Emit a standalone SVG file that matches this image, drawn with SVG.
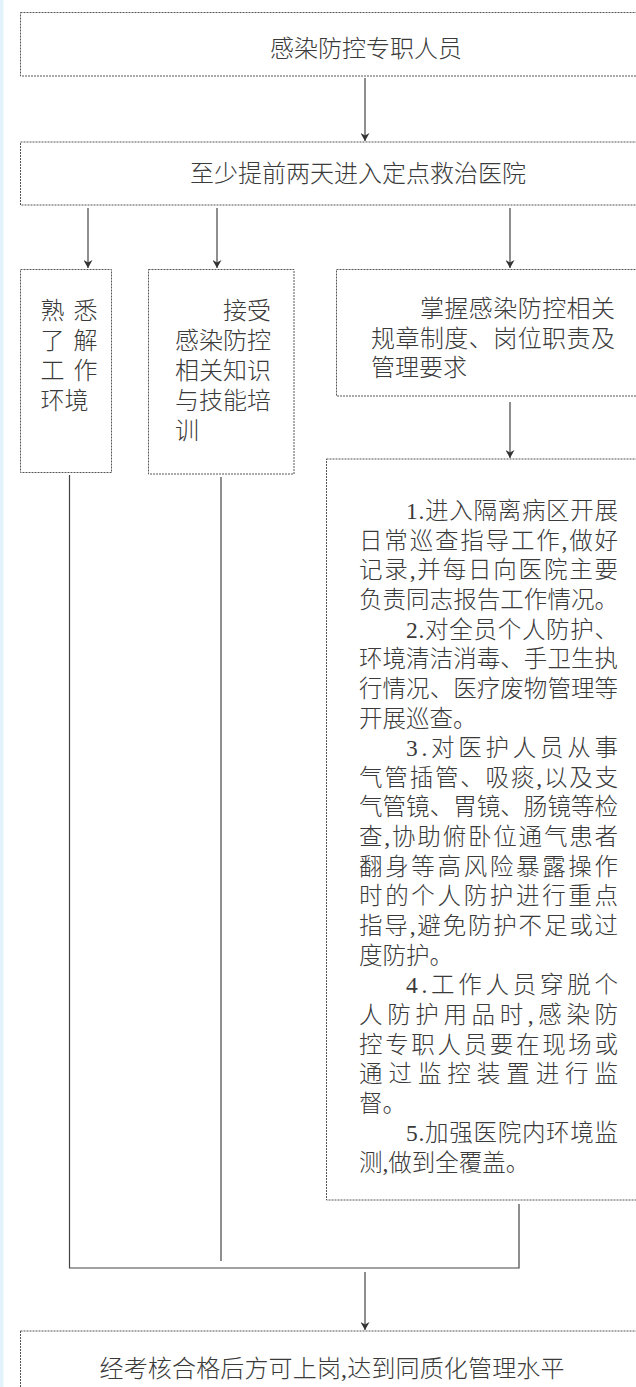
<svg xmlns="http://www.w3.org/2000/svg" width="636" height="1387" viewBox="0 0 636 1387">
<defs>
<style>
.box{fill:#fff;stroke:#555;stroke-width:1;stroke-dasharray:2 1}
.t{font-family:'Liberation Serif','Noto Sans CJK SC',serif;font-size:24px;fill:#3a3a3a;font-weight:300}
.td{font-family:'Liberation Serif','Noto Sans CJK SC',serif;font-size:23.5px;fill:#3a3a3a;font-weight:300}
.c{fill:none;stroke:#444;stroke-width:1.2}
</style>
<marker id="ah" markerWidth="8" markerHeight="9" refX="8" refY="4.5" orient="auto" markerUnits="userSpaceOnUse">
<path d="M0,0 L8,4.5 L0,9 L2.5,4.5 z" fill="#333"/>
</marker>
</defs>
<rect x="0" y="0" width="636" height="1387" fill="#fff"/>
<rect x="0" y="0" width="3.5" height="1387" fill="#e3f3fb"/>

<g id="connectors">
<line class="c" x1="365" y1="78" x2="365" y2="141" marker-end="url(#ah)"/>
<line class="c" x1="88" y1="208" x2="88" y2="268" marker-end="url(#ah)"/>
<line class="c" x1="217" y1="208" x2="217" y2="268" marker-end="url(#ah)"/>
<line class="c" x1="510" y1="208" x2="510" y2="268" marker-end="url(#ah)"/>
<line class="c" x1="510" y1="402" x2="510" y2="458" marker-end="url(#ah)"/>
<polyline class="c" points="69.5,475 69.5,1268 519,1268 519,1204"/>
<line class="c" x1="221" y1="477" x2="221" y2="1261"/>
<line class="c" x1="365" y1="1272" x2="365" y2="1330" marker-end="url(#ah)"/>
</g>

<g id="node-top">
<rect class="box" x="20.5" y="12.5" width="630" height="63.5"/>
<text class="t" x="270" y="57">感染防控专职人员</text>
</g>

<g id="node-hospital">
<rect class="box" x="20.5" y="142" width="630" height="63"/>
<text class="t" x="190" y="181.5">至少提前两天进入定点救治医院</text>
</g>

<g id="node-env">
<rect class="box" x="20.5" y="269.5" width="91" height="203"/>
<text class="t" x="40.5" y="319" textLength="57" lengthAdjust="spacing">熟悉</text>
<text class="t" x="40.5" y="349" textLength="57" lengthAdjust="spacing">了解</text>
<text class="t" x="40.5" y="379" textLength="57" lengthAdjust="spacing">工作</text>
<text class="t" x="40.5" y="409">环境</text>
</g>

<g id="node-training">
<rect class="box" x="148.5" y="269.5" width="145.5" height="204.5"/>
<text class="t" x="223" y="319">接受</text>
<text class="t" x="175" y="349">感染防控</text>
<text class="t" x="175" y="379">相关知识</text>
<text class="t" x="175" y="409">与技能培</text>
<text class="t" x="175" y="439">训</text>
</g>

<g id="node-rules">
<rect class="box" x="336.5" y="269.5" width="310" height="126.5"/>
<text class="t" x="420" y="317" textLength="195" lengthAdjust="spacing">掌握感染防控相关</text>
<text class="t" x="371" y="346.5" textLength="244" lengthAdjust="spacing">规章制度、岗位职责及</text>
<text class="t" x="371" y="376">管理要求</text>
</g>

<g id="node-duties">
<rect class="box" x="326.5" y="459" width="320" height="741"/>
<text class="td" x="406" y="519" textLength="212" lengthAdjust="spacing">1.进入隔离病区开展</text>
<text class="td" x="359" y="548.6" textLength="259" lengthAdjust="spacing">日常巡查指导工作,做好</text>
<text class="td" x="359" y="578.3" textLength="259" lengthAdjust="spacing">记录,并每日向医院主要</text>
<text class="td" x="359" y="607.9" textLength="259" lengthAdjust="spacing">负责同志报告工作情况。</text>
<text class="td" x="406" y="637.6" textLength="212" lengthAdjust="spacing">2.对全员个人防护、</text>
<text class="td" x="359" y="667.2" textLength="259" lengthAdjust="spacing">环境清洁消毒、手卫生执</text>
<text class="td" x="359" y="696.8" textLength="259" lengthAdjust="spacing">行情况、医疗废物管理等</text>
<text class="td" x="359" y="726.5">开展巡查。</text>
<text class="td" x="406" y="756.1" textLength="212" lengthAdjust="spacing">3.对医护人员从事</text>
<text class="td" x="359" y="785.8" textLength="259" lengthAdjust="spacing">气管插管、吸痰,以及支</text>
<text class="td" x="359" y="815.4" textLength="259" lengthAdjust="spacing">气管镜、胃镜、肠镜等检</text>
<text class="td" x="359" y="845" textLength="259" lengthAdjust="spacing">查,协助俯卧位通气患者</text>
<text class="td" x="359" y="874.7" textLength="259" lengthAdjust="spacing">翻身等高风险暴露操作</text>
<text class="td" x="359" y="904.3" textLength="259" lengthAdjust="spacing">时的个人防护进行重点</text>
<text class="td" x="359" y="934" textLength="259" lengthAdjust="spacing">指导,避免防护不足或过</text>
<text class="td" x="359" y="963.6">度防护。</text>
<text class="td" x="406" y="993.2" textLength="212" lengthAdjust="spacing">4.工作人员穿脱个</text>
<text class="td" x="359" y="1022.9" textLength="259" lengthAdjust="spacing">人防护用品时,感染防</text>
<text class="td" x="359" y="1052.5" textLength="259" lengthAdjust="spacing">控专职人员要在现场或</text>
<text class="td" x="359" y="1082.2" textLength="259" lengthAdjust="spacing">通过监控装置进行监</text>
<text class="td" x="359" y="1111.8">督。</text>
<text class="td" x="406" y="1141.4" textLength="212" lengthAdjust="spacing">5.加强医院内环境监</text>
<text class="td" x="359" y="1171.1">测,做到全覆盖。</text>
</g>

<g id="node-result">
<rect class="box" x="20.5" y="1331" width="630" height="70"/>
<text class="t" x="99.5" y="1377" textLength="465" lengthAdjust="spacing">经考核合格后方可上岗,达到同质化管理水平</text>
</g>
</svg>
